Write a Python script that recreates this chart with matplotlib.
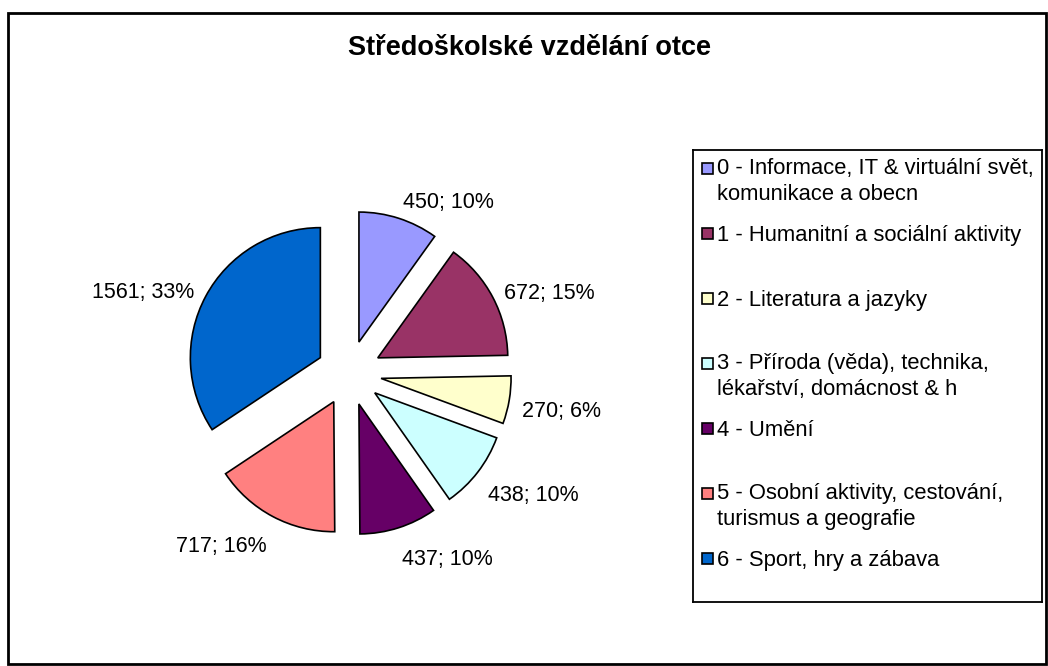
import numpy as np
import matplotlib
matplotlib.use('Agg')
import matplotlib.pyplot as plt
from matplotlib.patches import Rectangle

plt.rcParams['font.family'] = ['Liberation Sans', 'DejaVu Sans']

title = 'Středoškolské vzdělání otce'
categories = [
    '0 - Informace, IT & virtuální svět,\nkomunikace a obecn',
    '1 - Humanitní a sociální aktivity',
    '2 - Literatura a jazyky',
    '3 - Příroda (věda), technika,\nlékařství, domácnost & h',
    '4 - Umění',
    '5 - Osobní aktivity, cestování,\nturismus a geografie',
    '6 - Sport, hry a zábava',
]
counts = [450, 672, 270, 438, 437, 717, 1561]
percents = [10, 15, 6, 10, 10, 16, 33]
colors = ['#9999FF', '#993366', '#FFFFCC', '#CCFFFF', '#660066', '#FF8080', '#0066CC']

W, H = 1048, 666
fig = plt.figure(figsize=(W / 100, H / 100), dpi=100)
fig.patch.set_facecolor('white')

# outer chart frame
fig.patches.append(Rectangle((8 / W, 2 / H), 1038 / W, 651 / H, transform=fig.transFigure,
                             fill=False, edgecolor='black', linewidth=2))

fig.text(530 / W, 1 - 55 / H, title, ha='center', va='baseline', fontsize=19.5, fontweight='bold')

# pie: centre (349, 373) px, radius 130 px
a = 250 / 130
ax = fig.add_axes([(349 - 250) / W, (H - 373 - 250) / H, 500 / W, 500 / H])
wedges, _ = ax.pie(counts, colors=colors, explode=[0.25] * len(counts), startangle=90,
                   counterclock=False, radius=1,
                   wedgeprops=dict(edgecolor='black', linewidth=1.2))
ax.set_xlim(-a, a)
ax.set_ylim(-a, a)
ax.axis('off')

d = 1.35
for w, c, p in zip(wedges, counts, percents):
    th = np.deg2rad((w.theta1 + w.theta2) / 2)
    x = d * np.cos(th)
    y = d * np.sin(th) + 0.09 * np.sin(th) - 0.06
    ha = 'left' if np.cos(th) > 0 else 'right'
    ax.text(x, y, f'{c}; {p}%', ha=ha, va='center', fontsize=15.5)

# legend box
lx0, ly0, lx1, ly1 = 693, 150, 1042, 602
lax = fig.add_axes([lx0 / W, (H - ly1) / H, (lx1 - lx0) / W, (ly1 - ly0) / H])
lax.set_xlim(0, lx1 - lx0)
lax.set_ylim(ly1 - ly0, 0)
lax.set_xticks([])
lax.set_yticks([])
for s in lax.spines.values():
    s.set_linewidth(1.3)
for i, (lab, col) in enumerate(zip(categories, colors)):
    yb = 26 + 65 * i
    nl = lab.count('\n')
    lax.add_patch(Rectangle((9, yb - 13), 11, 11, facecolor=col, edgecolor='black', linewidth=1.2))
    lax.text(24, yb + 24 * nl, lab, ha='left', va='baseline', fontsize=15.8, linespacing=1.3)

fig.savefig('out.png', dpi=100)
